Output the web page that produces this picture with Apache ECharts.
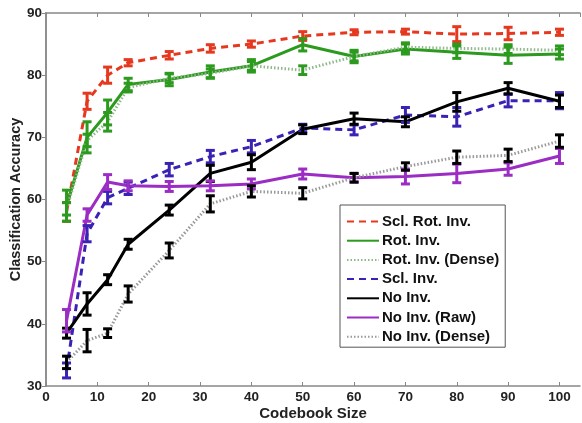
<!DOCTYPE html>
<html>
<head>
<meta charset="utf-8">
<script src="https://cdn.jsdelivr.net/npm/echarts@6/dist/echarts.min.js"></script>
<style>html,body{margin:0;padding:0;background:#fff;}#c{width:582px;height:423px;}</style>
</head>
<body>
<div id="c"></div>
<script>
const codebook = [4, 8, 12, 16, 24, 32, 40, 50, 60, 70, 80, 90, 100];
const xTicks = [0, 10, 20, 30, 40, 50, 60, 70, 80, 90, 100];
const yTicks = [30, 40, 50, 60, 70, 80, 90];

const sclRotInv      = [58.0, 75.8, 80.0, 82.0, 83.2, 84.3, 85.0, 86.3, 86.9, 87.0, 86.6, 86.7, 86.9];
const sclRotInvErr   = [1.5, 1.3, 1.3, 0.5, 0.6, 0.6, 0.5, 0.7, 0.4, 0.4, 1.2, 1.0, 0.5];
const rotInv         = [59.0, 70.0, 74.0, 78.5, 79.3, 80.5, 81.5, 84.9, 83.0, 84.2, 83.7, 83.2, 83.4];
const rotInvErr      = [2.5, 2.5, 2.0, 1.0, 1.0, 1.0, 1.0, 1.0, 1.0, 0.8, 1.0, 1.3, 0.8];
const rotInvDense    = [58.5, 69.5, 72.5, 78.0, 79.5, 80.3, 81.5, 80.8, 83.0, 84.5, 84.3, 84.2, 84.0];
const rotInvDenseErr = [1.0, 1.0, 1.5, 0.7, 0.7, 0.7, 0.7, 0.7, 0.7, 0.7, 0.7, 0.7, 0.7];
const sclInv         = [32.5, 54.5, 60.3, 61.8, 64.8, 66.9, 68.5, 71.5, 71.2, 73.6, 73.3, 75.9, 75.9];
const sclInvErr      = [1.2, 1.3, 1.0, 1.0, 1.0, 1.0, 1.0, 0.6, 0.8, 1.2, 1.5, 1.0, 1.3];
const noInv          = [38.5, 43.2, 47.1, 52.8, 58.3, 64.2, 66.0, 71.3, 73.0, 72.5, 75.7, 77.9, 75.8];
const noInvErr       = [0.8, 1.8, 0.8, 0.8, 0.8, 1.3, 1.2, 0.7, 0.9, 0.8, 1.5, 0.9, 1.0];
const noInvRaw       = [40.5, 57.5, 62.8, 62.2, 62.1, 62.2, 62.5, 64.1, 63.5, 63.7, 64.2, 64.9, 67.0];
const noInvRawErr    = [1.8, 1.0, 1.2, 0.8, 0.8, 0.8, 0.8, 0.8, 0.7, 1.2, 1.5, 1.0, 1.2];
const noInvDense     = [33.8, 37.3, 38.5, 44.8, 51.8, 59.3, 61.3, 61.0, 63.5, 65.3, 66.8, 67.1, 69.4];
const noInvDenseErr  = [1.0, 1.8, 0.7, 1.3, 1.2, 1.3, 0.9, 0.9, 0.7, 0.6, 1.0, 1.0, 1.0];

const seriesDefs = [
  {name: 'Scl. Rot. Inv.',     v: sclRotInv,   e: sclRotInvErr,   color: '#e5381f', bar: '#e5381f', type: [7, 5], width: 3},
  {name: 'Rot. Inv.',          v: rotInv,      e: rotInvErr,      color: '#2c9a1e', bar: '#2c9a1e', type: 'solid', width: 3},
  {name: 'Rot. Inv. (Dense)',  v: rotInvDense, e: rotInvDenseErr, color: '#8fb98a', bar: '#2c9a1e', type: [1.5, 2], width: 3},
  {name: 'Scl. Inv.',          v: sclInv,      e: sclInvErr,      color: '#3a22b5', bar: '#3a22b5', type: [7, 5], width: 3},
  {name: 'No Inv.',            v: noInv,       e: noInvErr,       color: '#000000', bar: '#000000', type: 'solid', width: 3},
  {name: 'No Inv. (Raw)',      v: noInvRaw,    e: noInvRawErr,    color: '#9b2cc4', bar: '#9b2cc4', type: 'solid', width: 3},
  {name: 'No Inv. (Dense)',    v: noInvDense,  e: noInvDenseErr,  color: '#999999', bar: '#000000', type: [1.5, 2], width: 3}
];

const series = [];
seriesDefs.forEach(function (d) {
  series.push({
    name: d.name,
    type: 'line',
    data: codebook.map(function (x, i) { return [x, d.v[i]]; }),
    symbol: 'none',
    color: d.color,
    lineStyle: {color: d.color, width: d.width, type: d.type},
    z: 2
  });
});
seriesDefs.forEach(function (d) {
  series.push({
    name: d.name + ' err',
    type: 'custom',
    z: 3,
    data: codebook.map(function (x, i) { return [x, d.v[i] - d.e[i], d.v[i] + d.e[i]]; }),
    encode: {x: 0, y: [1, 2]},
    renderItem: function (params, api) {
      const x = api.value(0);
      const lo = api.coord([x, api.value(1)]);
      const hi = api.coord([x, api.value(2)]);
      const w = 4.5;
      const st = {stroke: d.bar, lineWidth: 3};
      return {
        type: 'group',
        children: [
          {type: 'line', shape: {x1: lo[0], y1: lo[1], x2: hi[0], y2: hi[1]}, style: st},
          {type: 'line', shape: {x1: lo[0] - w, y1: lo[1], x2: lo[0] + w, y2: lo[1]}, style: st},
          {type: 'line', shape: {x1: hi[0] - w, y1: hi[1], x2: hi[0] + w, y2: hi[1]}, style: st}
        ]
      };
    }
  });
});

const font = 'Liberation Sans';

const chart = echarts.init(document.getElementById('c'), null, {renderer: 'canvas'});
chart.setOption({
  animation: false,
  backgroundColor: '#fff',
  grid: {left: 46, right: 2, top: 13, bottom: 37, containLabel: false, outerBoundsMode: 'none'},
  legend: {
    orient: 'vertical',
    left: 340,
    top: 205,
    data: seriesDefs.map(function (d) { return d.name; }),
    itemWidth: 32,
    itemHeight: 12,
    itemGap: 4.2,
    padding: [9, 6, 3, 6],
    borderColor: '#555',
    borderWidth: 1,
    backgroundColor: '#fff',
    itemStyle: {opacity: 0},
    textStyle: {fontFamily: font, fontWeight: 'bold', fontSize: 15, lineHeight: 15, color: '#111', padding: [0, 0, 0, -2]}
  },
  xAxis: [{
    type: 'value', min: 0, max: 104, interval: 10,
    name: 'Codebook Size', nameLocation: 'middle', nameGap: 20, nameMoveOverlap: false,
    nameTextStyle: {fontFamily: font, fontWeight: 'bold', fontSize: 15, color: '#222'},
    axisLine: {show: true, lineStyle: {color: '#888', width: 1.5}},
    axisTick: {inside: true, length: 4, lineStyle: {color: '#888'}},
    axisLabel: {margin: 4, showMaxLabel: false, fontFamily: font, fontWeight: 'bold', fontSize: 13.5, color: '#222',
      formatter: function (v) { return xTicks.indexOf(v) >= 0 ? String(v) : ''; }},
    splitLine: {show: false}
  }, {
    type: 'value', min: 0, max: 104, interval: 10, position: 'top',
    axisLine: {show: true, lineStyle: {color: '#888', width: 1.5}},
    axisTick: {show: true, inside: true, length: 4, lineStyle: {color: '#888'}},
    axisLabel: {show: false}, splitLine: {show: false}
  }],
  yAxis: [{
    type: 'value', min: 30, max: 90, interval: 10,
    name: 'Classification Accuracy', nameLocation: 'middle', nameGap: 23, nameMoveOverlap: false,
    nameTextStyle: {fontFamily: font, fontWeight: 'bold', fontSize: 14.5, color: '#222'},
    axisLine: {show: true, lineStyle: {color: '#888', width: 1.5}},
    axisTick: {show: true, inside: false, length: 3, lineStyle: {color: '#888'}},
    axisLabel: {margin: 4, fontFamily: font, fontWeight: 'bold', fontSize: 13.5, color: '#222',
      formatter: function (v) { return yTicks.indexOf(v) >= 0 ? String(v) : ''; }},
    splitLine: {show: false}
  }, {
    type: 'value', min: 30, max: 90, interval: 10, position: 'right',
    axisLine: {show: true, lineStyle: {color: '#888', width: 1.5}},
    axisTick: {show: true, inside: true, length: 4, lineStyle: {color: '#888'}},
    axisLabel: {show: false}, splitLine: {show: false}
  }],
  series: series
});
</script>
</body>
</html>
